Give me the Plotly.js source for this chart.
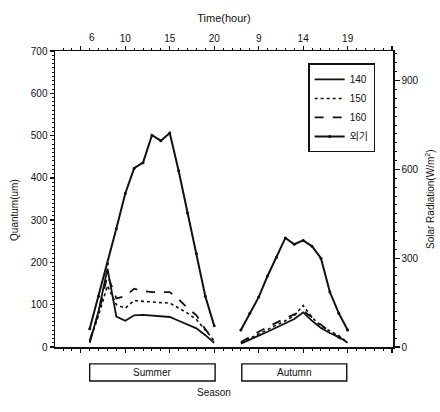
<!DOCTYPE html>
<html>
<head>
<meta charset="utf-8">
<script src="https://cdn.plot.ly/plotly-3.0.1.min.js"></script>
<style>
  html, body { margin: 0; padding: 0; background: #fff; }
  #chart { width: 440px; height: 412px; }
</style>
</head>
<body>
<div id="chart"></div>
<script>
// Hours of measurement for each season
const summerHours = [6, 7, 8, 9, 10, 11, 12, 13, 14, 15, 16, 17, 18, 19, 20];
const autumnHours = [7, 8, 9, 10, 11, 12, 13, 14, 15, 16, 17, 18, 19];

// Quantum readings, summer
const summer140 = [10, 85, 185, 72, 62, 75, 76, 74, 72, 71, 62, 53, 44, 28, 10];
const summer150 = [12, 75, 145, 100, 92, 110, 108, 106, 105, 104, 92, 80, 65, 40, 15];
const summer160 = [15, 80, 170, 115, 120, 138, 132, 130, 130, 130, 113, 92, 75, 42, 15];
const summerOut = [43, 120, 197, 280, 363, 423, 436, 501, 488, 506, 417, 317, 221, 120, 50];

// Quantum readings, autumn
const autumn140 = [8, 18, 27, 36, 46, 56, 66, 82, 62, 45, 33, 24, 10];
const autumn150 = [10, 20, 30, 41, 52, 62, 74, 98, 70, 50, 38, 27, 11];
const autumn160 = [12, 25, 36, 47, 58, 68, 77, 86, 70, 52, 36, 22, 9];
const autumnOut = [40, 80, 118, 168, 212, 258, 243, 252, 238, 210, 130, 80, 40];

// Series names and the season labels
const seriesNames = ['140', '150', '160', '외기'];
const seasonNames = ['Summer', 'Autumn'];

// Top time-axis labels
const timeTickVals = [5, 10, 15, 20, 25, 30, 35, 40];
const timeTickText = ['', '10', '15', '20', '9', '14', '19', ''];

// Both seasons share one horizontal axis; autumn hours are shifted to sit after summer
const AUTUMN_SHIFT = 16;
const xs = summerHours.concat([null], autumnHours.map(h => h + AUTUMN_SHIFT));
const join = (a, b) => a.concat([null], b);

const FONT = 'Liberation Sans Narrow, Arial Narrow, Liberation Sans, Arial, sans-serif';
const INK = '#111';

const styles = [
  { dash: 'solid', width: 1.8 },
  { dash: 'dot', width: 1.6 },
  { dash: 'dash', width: 1.8 },
  { dash: 'solid', width: 2 }
];
const seriesData = [
  join(summer140, autumn140),
  join(summer150, autumn150),
  join(summer160, autumn160),
  join(summerOut, autumnOut)
];

const traces = seriesData.map((ys, i) => ({
  type: 'scatter',
  mode: i === 3 ? 'lines+markers' : 'lines',
  name: seriesNames[i],
  x: xs,
  y: ys,
  connectgaps: false,
  line: { color: INK, dash: styles[i].dash, width: styles[i].width },
  marker: { color: INK, size: 3 },
  hoverinfo: 'skip'
}));

// Empty traces so the top time axis and right radiation axis get drawn
traces.push({ type: 'scatter', x: [null], y: [null], xaxis: 'x2', yaxis: 'y', showlegend: false, hoverinfo: 'skip' });
traces.push({ type: 'scatter', x: [null], y: [null], xaxis: 'x', yaxis: 'y2', showlegend: false, hoverinfo: 'skip' });

const xRange = [2.1, 40.1];

const layout = {
  width: 440,
  height: 412,
  margin: { l: 55, r: 47, t: 51, b: 65 },
  paper_bgcolor: '#fff',
  plot_bgcolor: '#fff',
  font: { family: FONT, size: 10, color: INK },
  showlegend: true,
  legend: {
    x: 0.749, y: 0.958, xanchor: 'left', yanchor: 'top',
    bgcolor: '#fff', bordercolor: INK, borderwidth: 1.5,
    font: { family: FONT + ', Noto Sans CJK KR', size: 10, color: INK },
    tracegroupgap: 0
  },
  xaxis: {
    range: xRange,
    tickvals: timeTickVals,
    showticklabels: false,
    ticks: 'outside', ticklen: 4, tickwidth: 1.3, tickcolor: INK,
    minor: { tick0: 0, dtick: 1, ticks: 'outside', ticklen: 2, tickwidth: 1, tickcolor: INK },
    showline: true, linecolor: INK, linewidth: 1.5,
    showgrid: false, zeroline: false, fixedrange: true
  },
  xaxis2: {
    overlaying: 'x', side: 'top', anchor: 'y',
    range: xRange,
    tickvals: timeTickVals,
    ticktext: timeTickText,
    ticks: 'outside', ticklen: 4, tickwidth: 1.3, tickcolor: INK,
    minor: { tick0: 0, dtick: 1, ticks: 'outside', ticklen: 2, tickwidth: 1, tickcolor: INK },
    showline: true, linecolor: INK, linewidth: 1.5,
    showgrid: false, zeroline: false,
    tickfont: { family: FONT, size: 10, color: INK },
    title: { text: 'Time(hour)', font: { family: FONT, size: 11, color: INK }, standoff: 7 }
  },
  yaxis: {
    range: [0, 700],
    dtick: 100,
    ticks: 'outside', ticklen: 4, tickwidth: 1.3, tickcolor: INK,
    minor: { dtick: 10, ticks: 'outside', ticklen: 2, tickwidth: 1, tickcolor: INK },
    showline: true, linecolor: INK, linewidth: 1.5,
    showgrid: false, zeroline: false,
    tickfont: { family: FONT, size: 10, color: INK }
  },
  yaxis2: {
    overlaying: 'y', side: 'right', anchor: 'x',
    range: [0, 1000],
    tick0: 0, dtick: 300,
    ticks: 'outside', ticklen: 5, tickwidth: 1.3, tickcolor: INK,
    minor: { dtick: 30, ticks: 'outside', ticklen: 2, tickwidth: 1, tickcolor: INK },
    showline: true, linecolor: INK, linewidth: 1.5,
    showgrid: false, zeroline: false,
    tickfont: { family: FONT, size: 10, color: INK }
  },
  shapes: [
    // season boxes under the time axis
    { type: 'rect', xref: 'x', yref: 'paper', x0: 6.0, x1: 20.1, y0: -0.057, y1: -0.115,
      line: { color: INK, width: 1.4 }, fillcolor: 'rgba(0,0,0,0)', layer: 'below' },
    { type: 'rect', xref: 'x', yref: 'paper', x0: 23.1, x1: 34.9, y0: -0.057, y1: -0.115,
      line: { color: INK, width: 1.4 }, fillcolor: 'rgba(0,0,0,0)', layer: 'below' }
  ],
  annotations: [
    { text: '6', xref: 'x', yref: 'paper', x: 6.3, y: 1.0, yanchor: 'bottom', yshift: 6,
      showarrow: false, font: { family: FONT, size: 10, color: INK } },
    { text: seasonNames[0], xref: 'x', yref: 'paper', x: 13.05, y: -0.086,
      xanchor: 'center', yanchor: 'middle',
      showarrow: false, font: { family: FONT, size: 10, color: INK } },
    { text: seasonNames[1], xref: 'x', yref: 'paper', x: 29, y: -0.086,
      xanchor: 'center', yanchor: 'middle',
      showarrow: false, font: { family: FONT, size: 10, color: INK } },
    { text: 'Season', xref: 'paper', yref: 'paper', x: 0.47, y: -0.155,
      xanchor: 'center', yanchor: 'middle',
      showarrow: false, font: { family: FONT, size: 10, color: INK } },
    { text: 'Quantum(um)', xref: 'paper', yref: 'paper', x: 0, xshift: -40, y: 0.463,
      xanchor: 'center', yanchor: 'middle', textangle: -90,
      showarrow: false, font: { family: FONT, size: 10, color: INK } },
    { text: 'Solar Radiation(W/m<sup>2</sup>)', xref: 'paper', yref: 'paper',
      x: 1.0, xshift: 37, y: 0.5, xanchor: 'center', yanchor: 'middle', textangle: -90,
      showarrow: false, font: { family: FONT, size: 10, color: INK } }
  ]
};

Plotly.newPlot('chart', traces, layout, { displayModeBar: false, staticPlot: true });
</script>
</body>
</html>
